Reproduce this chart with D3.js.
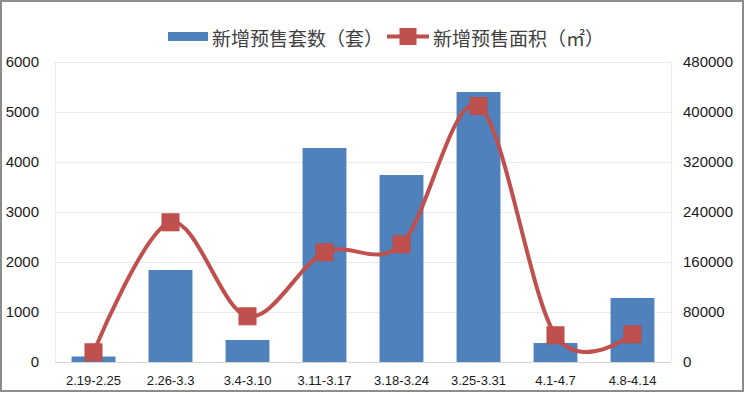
<!DOCTYPE html>
<html><head><meta charset="utf-8">
<script src="https://cdn.jsdelivr.net/npm/d3@7"></script>
<style>body{margin:0;background:#fff}svg{display:block}</style>
</head><body>
<svg id="c" width="746" height="395"></svg>
<script>
const categories = ["2.19-2.25","2.26-3.3","3.4-3.10","3.11-3.17","3.18-3.24","3.25-3.31","4.1-4.7","4.8-4.14"];
const units = [110, 1840, 440, 4280, 3740, 5400, 380, 1280];
const area = [15500, 223500, 73100, 175500, 188300, 409600, 42700, 44300];
const leftTicks = [0,1000,2000,3000,4000,5000,6000];
const rightTicks = [0,80000,160000,240000,320000,400000,480000];
const seriesNames = ["新增预售套数（套）","新增预售面积（㎡）"];

const svg = d3.select("#c");
const W=746,H=395;
const m={l:55,r:75,t:62,b:33};
const x = d3.scaleBand().domain(categories).range([m.l, W-m.r]).paddingInner(0.43).paddingOuter(0.215);
const yL = d3.scaleLinear().domain([0,6000]).range([H-m.b, m.t]);
const yR = d3.scaleLinear().domain([0,480000]).range([H-m.b, m.t]);
const font = "'Liberation Sans', Arial, sans-serif";

svg.append("rect").attr("x",1).attr("y",1).attr("width",742).attr("height",390)
  .attr("fill","#fff").attr("stroke","#8c8c8c").attr("stroke-width",2);

// grid
svg.append("g").selectAll("line").data(leftTicks.slice(1)).join("line")
  .attr("x1",m.l).attr("x2",W-m.r).attr("y1",d=>yL(d)+0.5).attr("y2",d=>yL(d)+0.5)
  .attr("stroke","#ebebeb").attr("stroke-width",1);
svg.append("line").attr("x1",m.l+0.5).attr("x2",m.l+0.5).attr("y1",m.t).attr("y2",H-m.b).attr("stroke","#ebebeb");
svg.append("line").attr("x1",W-m.r+0.5).attr("x2",W-m.r+0.5).attr("y1",m.t).attr("y2",H-m.b).attr("stroke","#ebebeb");

// bars
svg.append("g").selectAll("rect").data(units).join("rect")
  .attr("x",(d,i)=>x(categories[i])).attr("width",x.bandwidth())
  .attr("y",d=>yL(d)).attr("height",d=>yL(0)-yL(d)).attr("fill","#4F81BD");

// baseline
svg.append("line").attr("x1",m.l).attr("x2",W-m.r).attr("y1",yL(0)+0.5).attr("y2",yL(0)+0.5).attr("stroke","#d4d4d4");

// line
const cx = i => x(categories[i]) + x.bandwidth()/2;
const line = d3.line().x((d,i)=>cx(i)).y(d=>yR(d)).curve(d3.curveCardinal.tension(0));
svg.append("path").datum(area).attr("d",line).attr("fill","none")
  .attr("stroke","#C0504D").attr("stroke-width",4);
svg.append("g").selectAll("rect").data(area).join("rect")
  .attr("x",(d,i)=>cx(i)-8.5).attr("y",d=>yR(d)-8.5).attr("width",17).attr("height",17)
  .attr("fill","#C0504D").attr("stroke","#BE4B48").attr("stroke-width",1);

// axes
const axL = svg.append("g").attr("transform",`translate(${m.l},0)`)
  .call(d3.axisLeft(yL).tickValues(leftTicks).tickSize(0).tickPadding(16).tickFormat(d3.format("d")));
const axR = svg.append("g").attr("transform",`translate(${W-m.r},0)`)
  .call(d3.axisRight(yR).tickValues(rightTicks).tickSize(0).tickPadding(12).tickFormat(d3.format("d")));
const axB = svg.append("g").attr("transform",`translate(0,${H-m.b})`)
  .call(d3.axisBottom(x).tickSize(0).tickPadding(14));
[axL,axR,axB].forEach(a=>{a.select(".domain").remove();
  a.selectAll("text").attr("font-family",font).attr("fill","#1a1a1a");});
axL.selectAll("text").attr("font-size",15);
axR.selectAll("text").attr("font-size",15);
axB.selectAll("text").attr("font-size",13);

// legend
const lg = svg.append("g");
lg.append("rect").attr("x",168).attr("y",32).attr("width",40).attr("height",9).attr("fill","#4F81BD");
lg.append("text").attr("x",212).attr("y",37).attr("dominant-baseline","central").text(seriesNames[0])
  .attr("font-family","'Noto Sans CJK SC', sans-serif").attr("font-size",19).attr("fill","#404040");
lg.append("line").attr("x1",387).attr("x2",429).attr("y1",36.5).attr("y2",36.5).attr("stroke","#C0504D").attr("stroke-width",4);
lg.append("rect").attr("x",399.5).attr("y",28).attr("width",17).attr("height",17).attr("fill","#C0504D");
lg.append("text").attr("x",433).attr("y",37).attr("dominant-baseline","central").text(seriesNames[1])
  .attr("font-family","'Noto Sans CJK SC', sans-serif").attr("font-size",19).attr("fill","#404040");
</script>
</body></html>
